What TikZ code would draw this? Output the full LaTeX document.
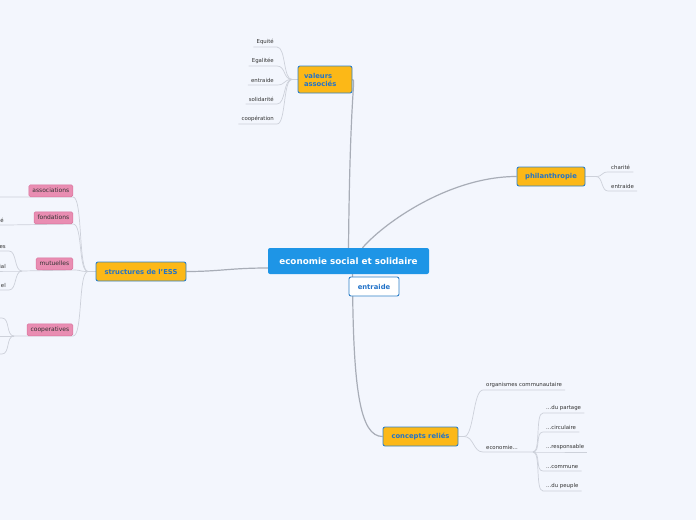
\documentclass[tikz,border=0pt]{standalone}
\usepackage{fontspec}
\setmainfont{DejaVu Sans}
\usetikzlibrary{calc}
\definecolor{mapbg}{HTML}{F3F6FD}
\definecolor{rootblue}{HTML}{1E95E6}
\definecolor{topicfill}{HTML}{FCB817}
\definecolor{topicline}{HTML}{2F80C8}
\definecolor{topictext}{HTML}{2373C8}
\definecolor{pinkfill}{HTML}{E98DB2}
\definecolor{pinkline}{HTML}{D8739C}
\definecolor{branchgrey}{HTML}{A8ADB7}
\definecolor{leafgrey}{HTML}{CDD1DA}
\pgfdeclarelayer{bg}
\pgfdeclarelayer{links}
\pgfsetlayers{bg,links,main}

\begin{document}
\begin{tikzpicture}[
  x=1pt, y=-1pt,
  font=\fontsize{5.4}{6.5}\selectfont,
  root/.style  ={rounded corners=2pt, fill=rootblue, text=white, inner sep=0pt,
                 minimum width=161pt, minimum height=26pt,
                 font=\fontsize{8.8}{10}\selectfont\bfseries},
  topic/.style ={rounded corners=2pt, draw=topicline, line width=0.9pt, fill=topicfill,
                 text=topictext, inner sep=0pt, minimum height=19pt,
                 font=\fontsize{6.8}{8}\selectfont\bfseries},
  tag/.style   ={topic, fill=white},
  sub/.style   ={rounded corners=1.5pt, draw=pinkline, line width=0.5pt, fill=pinkfill,
                 text=black!80, inner xsep=3.5pt, inner ysep=0pt, minimum height=12pt,
                 font=\fontsize{6}{7}\selectfont},
  leaf/.style  ={inner xsep=3pt, inner ysep=2pt, text=black!80},
  branch/.style={draw=branchgrey, line width=1.2pt},
  twig/.style  ={draw=leafgrey, line width=0.7pt},
]

\begin{pgfonlayer}{bg}
  \fill[mapbg] (0,0) rectangle (696,520);
\end{pgfonlayer}
\useasboundingbox (0,0) rectangle (696,520);

% centre
\node[root] (eco) at (348.5,261) {economie social et solidaire};
\node[tag, minimum width=50pt] (ent) at (374,286.5) {entraide};

% main topics
\node[topic, minimum width=54pt, minimum height=27pt, text width=42pt, inner xsep=6pt,
      align=left] (val) at (325,79.5) {valeurs\\associés};
\node[topic, minimum width=68pt] (phil) at (551,176.5) {philanthropie};
\node[topic, minimum width=90pt] (struct) at (141,271.5) {structures de l'ESS};
\node[topic, minimum width=75pt] (conc) at (420.5,436.5) {concepts reliés};

% valeurs associés
\node[leaf, anchor=south east] (equ) at (277,47)  {Equité};
\node[leaf, anchor=south east] (ega) at (277,66)  {Egalitée};
\node[leaf, anchor=south east] (vent) at (277,85) {entraide};
\node[leaf, anchor=south east] (sol) at (277,104) {solidarité};
\node[leaf, anchor=south east] (coo) at (277,124) {coopération};
\coordinate (vfan) at (292,79.5);

% philanthropie
\node[leaf, anchor=south west] (cha) at (608,172)  {charité};
\node[leaf, anchor=south west] (pent) at (608,191) {entraide};
\coordinate (pfan) at (596,176.5);

% structures de l'ESS
\node[sub, anchor=south east] (asso) at (73,197)  {associations};
\node[sub, anchor=south east] (fond) at (73,224)  {fondations};
\node[sub, anchor=south east] (mut) at (73,270)   {mutuelles};
\node[sub, anchor=south east] (coop) at (73,336)  {cooperatives};
\coordinate (sfan) at (88,271.5);
\node[leaf, anchor=south east] (fkid) at (7,225)  {é};
\node[leaf, anchor=south east] (mkida) at (9,251) {es};
\node[leaf, anchor=south east] (mkidb) at (9,271) {ial};
\node[leaf, anchor=south east] (mkidc) at (9,290) {el};
\coordinate (mfan) at (22,271);
\coordinate (akid) at (-6,197);
\coordinate (cfan) at (14,336);
\coordinate (ckida) at (-6,318);
\coordinate (ckidb) at (-6,336);
\coordinate (ckidc) at (-6,354);

% concepts reliés
\node[leaf, anchor=south west] (org) at (483,390) {organismes communautaire};
\node[leaf, anchor=south west] (econ) at (483,452) {economie...};
\coordinate (kfan) at (464,436.5);
\coordinate (efan) at (533,452);
\node[leaf, anchor=south west] (e1) at (543,413) {...du partage};
\node[leaf, anchor=south west] (e2) at (543,432) {...circulaire};
\node[leaf, anchor=south west] (e3) at (543,452) {...responsable};
\node[leaf, anchor=south west] (e4) at (543,471) {...commune};
\node[leaf, anchor=south west] (e5) at (543,491) {...du peuple};

\begin{pgfonlayer}{links}
  \draw[branch] (eco.north) .. controls (350,90) and (356,79.5) .. (val.east);
  \draw[branch] ($(eco.north)+(14,0)$) .. controls (385,222) and (450,176.5) .. (phil.west);
  \draw[branch] ($(eco.west)+(0,7)$) .. controls (230,268) and (220,271.5) .. (struct.east);
  \draw[branch] ($(eco.south)+(4,0)$) .. controls (353,390) and (360,436.5) .. (conc.west);

  \draw[twig] (val.west) -- (vfan);
  \draw[twig] (vfan) .. controls +(-9,0) and +(9,0) .. (equ.south east) -- (equ.south west);
  \draw[twig] (vfan) .. controls +(-9,0) and +(9,0) .. (ega.south east) -- (ega.south west);
  \draw[twig] (vfan) .. controls +(-9,0) and +(9,0) .. (vent.south east) -- (vent.south west);
  \draw[twig] (vfan) .. controls +(-9,0) and +(9,0) .. (sol.south east) -- (sol.south west);
  \draw[twig] (vfan) .. controls +(-9,0) and +(9,0) .. (coo.south east) -- (coo.south west);

  \draw[twig] (phil.east) -- (pfan);
  \draw[twig] (pfan) .. controls +(7,0) and +(-7,0) .. (cha.south west) -- (cha.south east);
  \draw[twig] (pfan) .. controls +(7,0) and +(-7,0) .. (pent.south west) -- (pent.south east);

  \draw[twig] (struct.west) -- (sfan);
  \draw[twig] (sfan) .. controls +(-10,0) and +(10,0) .. (asso.south east) -- (akid);
  \draw[twig] (sfan) .. controls +(-10,0) and +(10,0) .. (fond.south east) -- (fkid.south east)
              -- (fkid.south west);
  \draw[twig] (sfan) .. controls +(-10,0) and +(10,0) .. (mut.south east) -- (mfan);
  \draw[twig] (sfan) .. controls +(-10,0) and +(10,0) .. (coop.south east) -- (cfan);
  \draw[twig] (mfan) .. controls +(-8,0) and +(8,0) .. (mkida.south east) -- (mkida.south west);
  \draw[twig] (mfan) -- (mkidb.south east) -- (mkidb.south west);
  \draw[twig] (mfan) .. controls +(-8,0) and +(8,0) .. (mkidc.south east) -- (mkidc.south west);
  \draw[twig] (cfan) .. controls +(-8,0) and +(8,0) .. ($(ckida)+(8,0)$) -- (ckida);
  \draw[twig] (cfan) -- (ckidb);
  \draw[twig] (cfan) .. controls +(-8,0) and +(8,0) .. ($(ckidc)+(8,0)$) -- (ckidc);

  \draw[twig] (conc.east) -- (kfan);
  \draw[twig] (kfan) .. controls +(10,0) and +(-10,0) .. (org.south west) -- (org.south east);
  \draw[twig] (kfan) .. controls +(10,0) and +(-10,0) .. (econ.south west) -- (econ.south east)
              -- (efan);
  \draw[twig] (efan) .. controls +(8,0) and +(-8,0) .. (e1.south west) -- (e1.south east);
  \draw[twig] (efan) .. controls +(8,0) and +(-8,0) .. (e2.south west) -- (e2.south east);
  \draw[twig] (efan) -- (e3.south west) -- (e3.south east);
  \draw[twig] (efan) .. controls +(8,0) and +(-8,0) .. (e4.south west) -- (e4.south east);
  \draw[twig] (efan) .. controls +(8,0) and +(-8,0) .. (e5.south west) -- (e5.south east);
\end{pgfonlayer}

\end{tikzpicture}
\end{document}
